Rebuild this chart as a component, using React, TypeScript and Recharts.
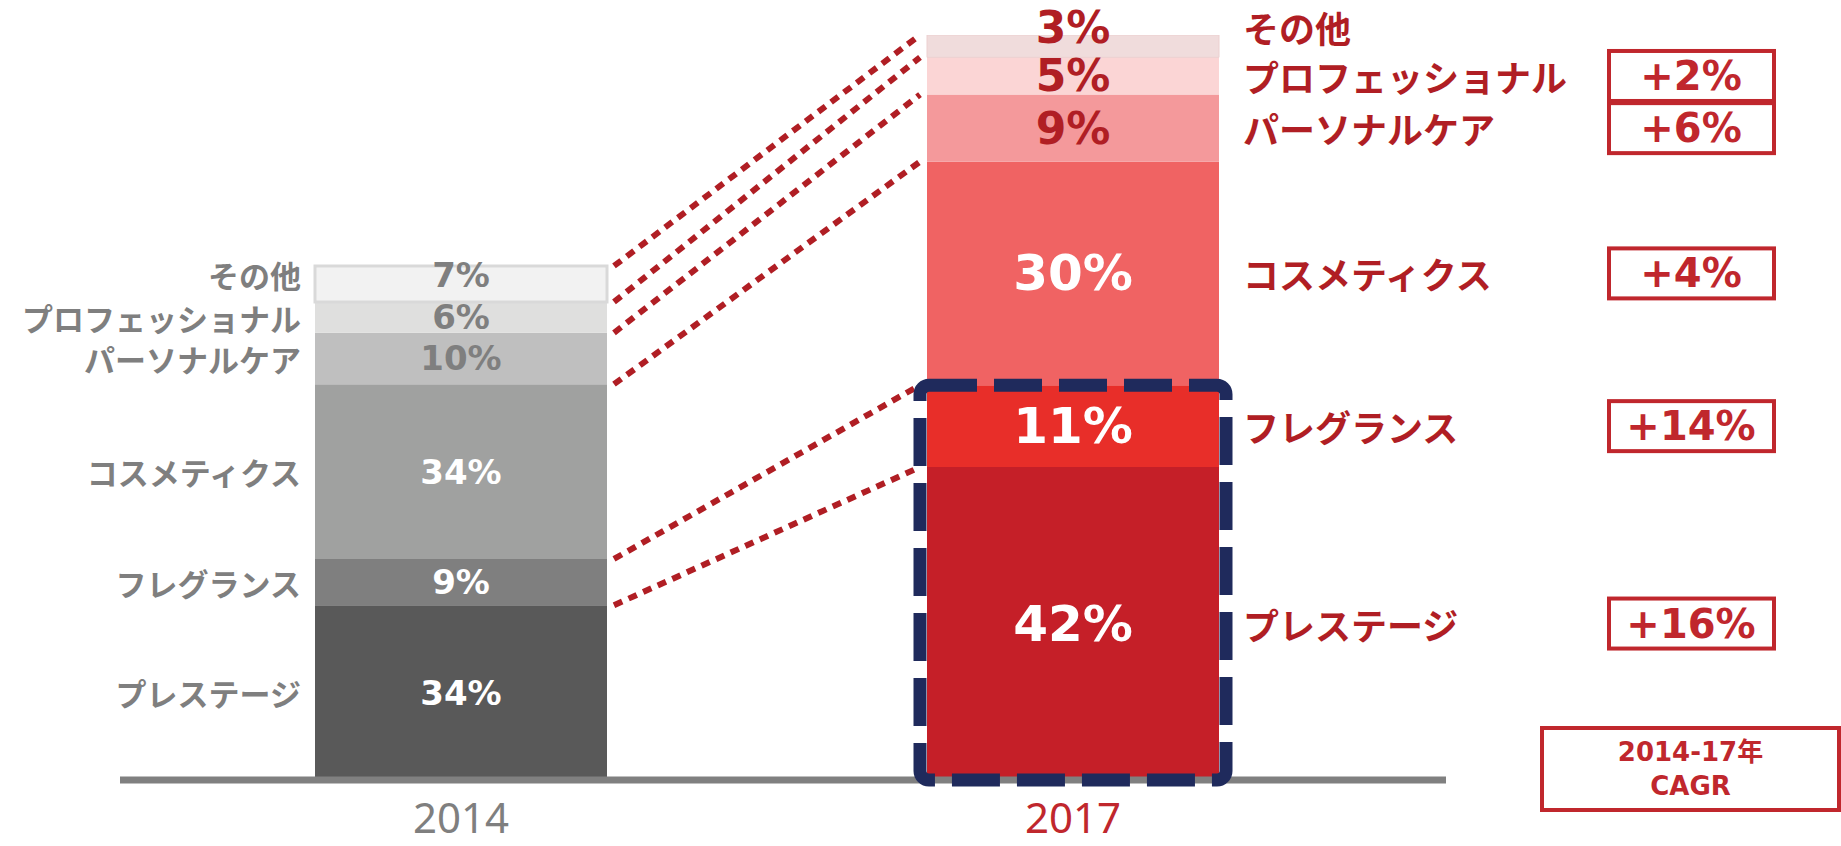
import {
  Bar,
  BarChart,
  Cell,
  LabelList,
  ReferenceArea,
  ReferenceLine,
  XAxis,
  YAxis,
} from "recharts";

const years = ["2014", "2017"];
const segments = [
  "プレステージ",
  "フレグランス",
  "コスメティクス",
  "パーソナルケア",
  "プロフェッショナル",
  "その他",
];
const share2014 = [34, 9, 34, 10, 6, 7];
const share2017 = [42, 11, 30, 9, 5, 3];
const cagr = ["+16%", "+14%", "+4%", "+6%", "+2%", ""];
// relative bar height (2017 = 100)
const marketIndex = [69, 100];
// プレステージ + フレグランス are boxed
const focusCount = 2;

const GAP = "gap";
const GRAY_TEXT = "#7f7f7f";
const RED_TEXT = "#b01e24";
const BOX_RED = "#c0272d";
const NAVY = "#1f2a5c";

const colors2014 = ["#595959", "#7f7f7f", "#a0a1a0", "#bfbfbf", "#dfdfde", "#f2f2f2"];
const colors2017 = ["#c51f28", "#e82e29", "#f06363", "#f4999b", "#fbd5d5", "#f0dcdc"];

const shares = [share2014, share2017];
const sum = (arr: number[]) => arr.reduce((a, b) => a + b, 0);
const TOP = segments.length - 1;

const rows: Record<string, string | number>[] = [];
years.forEach((year, yi) => {
  const row: Record<string, string | number> = { year };
  segments.forEach((name, si) => {
    row[`v${si}`] = (shares[yi][si] * marketIndex[yi]) / 100;
    row[`p${yi}_${si}`] = `${shares[yi][si]}%`;
    row[`n${yi}_${si}`] = name;
  });
  rows.push(row);
  if (yi === 0) rows.push({ year: GAP });
});

const boundaries = segments.map((_, si) => ({
  left: (sum(share2014.slice(0, si + 1)) * marketIndex[0]) / 100,
  right: (sum(share2017.slice(0, si + 1)) * marketIndex[1]) / 100,
}));
const focusTop = (sum(share2017.slice(0, focusCount)) * marketIndex[1]) / 100;

function rectOf(props: any) {
  const vb = props.viewBox ?? {};
  return {
    x: Number(vb.x ?? props.x),
    y: Number(vb.y ?? props.y),
    width: Number(vb.width ?? props.width),
    height: Number(vb.height ?? props.height),
  };
}

const pctFont = "'DejaVu Sans', Verdana, sans-serif";
const jpFont = "'Noto Sans CJK JP', sans-serif";

// label centre; the thin top segments get their label nudged upward
const y2014 = (si: number, y: number, h: number) => (si === TOP ? y + h / 2 - 9 : y + h / 2);
const y2017 = (si: number, y: number, h: number) => (si === TOP ? y - 8 : y + h / 2);

function makePct2014(si: number) {
  return (props: any) => {
    if (!props.value) return null;
    const { x, y, width, height } = rectOf(props);
    return (
      <text
        x={x + width / 2}
        y={y2014(si, y, height)}
        textAnchor="middle"
        dominantBaseline="central"
        fill={si >= 3 ? GRAY_TEXT : "#ffffff"}
        fontSize={34}
        fontWeight={700}
        fontFamily={pctFont}
      >
        {props.value}
      </text>
    );
  };
}

function makePct2017(si: number) {
  return (props: any) => {
    if (!props.value) return null;
    const { x, y, width, height } = rectOf(props);
    return (
      <text
        x={x + width / 2}
        y={y2017(si, y, height)}
        textAnchor="middle"
        dominantBaseline="central"
        fill={si >= 3 ? RED_TEXT : "#ffffff"}
        fontSize={si >= 3 ? 44 : 50}
        fontWeight={700}
        fontFamily={pctFont}
      >
        {props.value}
      </text>
    );
  };
}

function makeLeftName(si: number) {
  return (props: any) => {
    if (!props.value) return null;
    const { x, y, height } = rectOf(props);
    return (
      <text
        x={x - 14}
        y={y2014(si, y, height)}
        textAnchor="end"
        dominantBaseline="central"
        fill={GRAY_TEXT}
        fontSize={31}
        fontWeight={700}
        fontFamily={jpFont}
      >
        {props.value}
      </text>
    );
  };
}

function makeRightName(si: number) {
  return (props: any) => {
    if (!props.value) return null;
    const { x, y, width, height } = rectOf(props);
    const cy = y2017(si, y, height);
    const boxX = x + width + 390;
    return (
      <g>
        <text
          x={x + width + 24}
          y={cy}
          textAnchor="start"
          dominantBaseline="central"
          fill={RED_TEXT}
          fontSize={36}
          fontWeight={700}
          fontFamily={jpFont}
        >
          {props.value}
        </text>
        {cagr[si] ? (
          <g>
            <rect
              x={boxX}
              y={cy - 25}
              width={165}
              height={50}
              fill="#ffffff"
              stroke={BOX_RED}
              strokeWidth={4}
            />
            <text
              x={boxX + 82}
              y={cy}
              textAnchor="middle"
              dominantBaseline="central"
              fill={BOX_RED}
              fontSize={40}
              fontWeight={700}
              fontFamily={pctFont}
            >
              {cagr[si]}
            </text>
          </g>
        ) : null}
      </g>
    );
  };
}

function YearTick({ x, y, payload }: any) {
  if (payload.value === GAP) return null;
  return (
    <text
      x={x}
      y={y + 45}
      textAnchor="middle"
      fill={payload.value === "2017" ? BOX_RED : GRAY_TEXT}
      fontSize={42}
      fontFamily="'Noto Sans', sans-serif"
    >
      {payload.value}
    </text>
  );
}

function NavyBox(props: any) {
  const { x, y, width, height } = props;
  return (
    <rect
      x={x}
      y={y}
      width={width}
      height={height}
      rx={9}
      fill="none"
      stroke={NAVY}
      strokeWidth={13}
      strokeDasharray="48 17"
    />
  );
}

export default function App() {
  return (
    <div style={{ position: "absolute", left: 0, top: 0, width: 1841, height: 846, background: "#ffffff" }}>
      <BarChart
        width={1841}
        height={846}
        data={rows}
        margin={{ top: 35, right: 395, bottom: 6, left: 120 }}
        barCategoryGap={7}
      >
        <XAxis
          dataKey="year"
          height={60}
          padding={{ left: 188, right: 220 }}
          axisLine={{ stroke: "#808080", strokeWidth: 7 }}
          tickLine={false}
          tick={<YearTick />}
          interval={0}
        />
        <YAxis hide domain={[0, 100]} allowDataOverflow />
        {segments.map((name, si) => (
          <Bar key={name} dataKey={`v${si}`} stackId="share" isAnimationActive={false}>
            {rows.map((row, ri) => (
              <Cell
                key={ri}
                fill={row.year === "2014" ? colors2014[si] : colors2017[si]}
                stroke={si === TOP ? (row.year === "2014" ? "#d9d9d9" : "#ecd0d0") : "none"}
                strokeWidth={si === TOP && row.year === "2014" ? 3 : 1}
              />
            ))}
            <LabelList dataKey={`p0_${si}`} content={makePct2014(si)} />
            <LabelList dataKey={`p1_${si}`} content={makePct2017(si)} />
            <LabelList dataKey={`n0_${si}`} content={makeLeftName(si)} />
            <LabelList dataKey={`n1_${si}`} content={makeRightName(si)} />
          </Bar>
        ))}
        {boundaries.map((b, i) => (
          <ReferenceLine
            key={i}
            segment={[
              { x: GAP, y: b.left },
              { x: "2017", y: b.right },
            ]}
            position="start"
            ifOverflow="visible"
            stroke={RED_TEXT}
            strokeWidth={6}
            strokeDasharray="9 7"
          />
        ))}
        <ReferenceArea
          {...({ isFront: true, zIndex: 1500 } as any)}
          x1="2017"
          x2="2017"
          y1={0}
          y2={focusTop}
          ifOverflow="visible"
          shape={NavyBox}
        />
      </BarChart>
      <div
        style={{
          position: "absolute",
          left: 1540,
          top: 726,
          width: 293,
          height: 78,
          border: `4px solid ${BOX_RED}`,
          color: BOX_RED,
          fontFamily: "'DejaVu Sans', 'Noto Sans CJK JP', sans-serif",
          fontWeight: 700,
          fontSize: 26,
          lineHeight: "34px",
          textAlign: "center",
          display: "flex",
          flexDirection: "column",
          justifyContent: "center",
        }}
      >
        <div>2014-17年</div>
        <div>CAGR</div>
      </div>
    </div>
  );
}
